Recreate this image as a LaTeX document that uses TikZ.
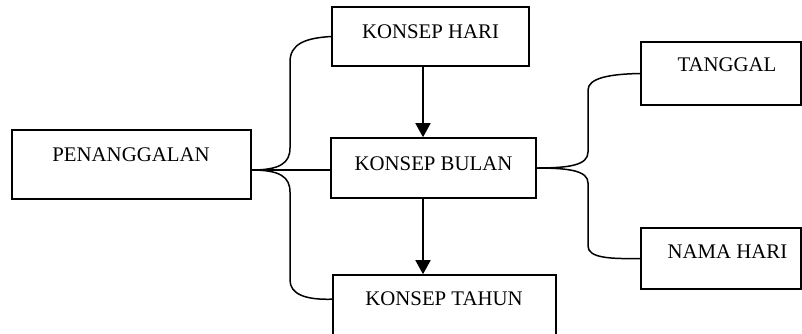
\documentclass[tikz,border=0pt]{standalone}
\usepackage{fontspec}
\setmainfont{Liberation Serif}
\usetikzlibrary{arrows.meta,calc}
\begin{document}
\begin{tikzpicture}[x=1pt,y=-1pt,
  box/.style={draw,line width=1.6pt,rectangle,inner sep=0pt},
  lbl/.style={inner sep=0pt,font=\fontsize{20.8}{24}\selectfont},
  link/.style={line width=1.5pt},
  arr/.style={line width=1.7pt,-{Triangle[length=14pt,width=15pt]}}]
\useasboundingbox (0,0) rectangle (802,333);
\clip (0,0) rectangle (802,333);

% boxes
\node[box,minimum width=239pt,minimum height=69pt] (pen) at (131.5,164.5) {};
\node[box,minimum width=197pt,minimum height=59pt] (hari) at (430.5,36.5) {};
\node[box,minimum width=205pt,minimum height=60pt] (bulan) at (433.5,168) {};
\node[box,minimum width=223pt,minimum height=70pt] (tahun) at (444.5,310) {};
\node[box,minimum width=160pt,minimum height=63pt] (tgl) at (721,73.5) {};
\node[box,minimum width=160pt,minimum height=61pt] (nama) at (721,258.5) {};

% labels
\node[lbl] (tpen) at (131,155) {PENANGGALAN};
\node[lbl] (thari) at (430.5,32) {KONSEP HARI};
\node[lbl] (tbulan) at (433.5,164) {KONSEP BULAN};
\node[lbl] (ttahun) at (444,299) {KONSEP TAHUN};
\node[lbl] (ttgl) at (727,65) {TANGGAL};
\node[lbl] (tnama) at (727.5,252) {NAMA HARI};

% junction points
\coordinate (j1) at ($(pen.east)+(0,5.5)$);
\coordinate (j2) at (bulan.east);
\coordinate (tw) at ($(tahun.north west)+(0,25)$);
\coordinate (ax) at (423,0);

% left brace
\draw[link] (j1) .. controls (280,170) and (290,163) .. (290,148)
  -- (290,62) .. controls (290,44) and (305,38) .. (hari.west);
\draw[link] (j1) .. controls (280,170) and (290,177) .. (290,192)
  -- (290,280) .. controls (290,294) and (305,300) .. (tw);
\draw[link] (j1) -- (j1 -| bulan.west);

% right brace
\draw[link] (j2) .. controls (570,168) and (588,165) .. (588,152)
  -- (588,90) .. controls (588,78) and (610,74) .. (tgl.west);
\draw[link] (j2) .. controls (570,168) and (588,171) .. (588,183)
  -- (588,246) .. controls (588,258) and (610,259) .. (nama.west);

% arrows
\draw[arr] (hari.south -| ax) -- (bulan.north -| ax);
\draw[arr] (bulan.south -| ax) -- (tahun.north -| ax);
\end{tikzpicture}
\end{document}
